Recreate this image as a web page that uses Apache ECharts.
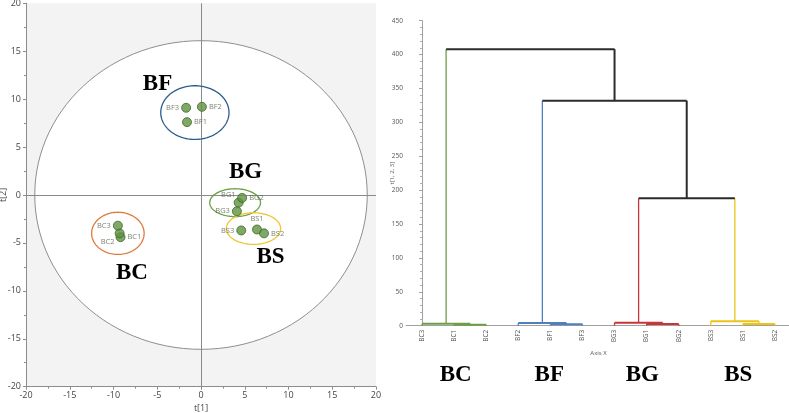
<!DOCTYPE html>
<html>
<head>
<meta charset="utf-8" />
<title>PCA score plot and dendrogram</title>
<script src="https://cdn.jsdelivr.net/npm/echarts@6/dist/echarts.min.js"></script>
<style>
  html, body { margin: 0; padding: 0; background: #fff; }
  #chart { width: 789px; height: 413px; }
</style>
</head>
<body>
<div id="chart"></div>
<script>
// ---- score plot data (t[1], t[2]) ----
var sampleNames = ['BF1', 'BF2', 'BF3', 'BG1', 'BG2', 'BG3', 'BS1', 'BS2', 'BS3', 'BC1', 'BC2', 'BC3'];
var t1Scores = [-1.6, 0.1, -1.7, 4.3, 4.7, 4.1, 6.4, 7.2, 4.6, -9.2, -9.3, -9.5];
var t2Scores = [7.6, 9.2, 9.1, -0.8, -0.3, -1.7, -3.6, -4.0, -3.7, -4.4, -4.0, -3.2];

// group ellipses: centre and half axes in score units
var groupNames = ['BF', 'BG', 'BS', 'BC'];
var ellCx = [-0.7, 3.9, 6.0, -9.5];
var ellCy = [8.6, -0.8, -3.5, -4.0];
var ellRx = [3.9, 2.9, 3.1, 3.0];
var ellRy = [2.8, 1.45, 1.65, 2.2];
// Hotelling T2 ellipse half axes
var hotellingAxes = [19.0, 16.1];

// ---- dendrogram data ----
var leafNames = ['BC3', 'BC1', 'BC2', 'BF2', 'BF1', 'BF3', 'BG3', 'BG1', 'BG2', 'BS3', 'BS1', 'BS2'];
var leafGroup = ['BC', 'BC', 'BC', 'BF', 'BF', 'BF', 'BG', 'BG', 'BG', 'BS', 'BS', 'BS'];
// merges: node 12 is the first merge, 13 the second ...
var mergeLeft   = [1, 0, 4, 3, 7, 6, 10, 9, 17, 15, 13];
var mergeRight  = [2, 12, 5, 14, 8, 16, 11, 18, 19, 20, 21];
var mergeHeight = [1.5, 3, 2, 4, 2.5, 4.5, 2.5, 6.5, 188, 332, 408];

var ellColor = { BF: '#2e5d8c', BG: '#6a9f45', BS: '#efc531', BC: '#df7a3c' };
var treeColor = { BC: '#6c9e47', BF: '#4f80bd', BG: '#c8363a', BS: '#ecc418' };
var joinColor = '#2b2b2b';

// where the point names sit (relative to the dot)
var labelPlace = {
  BF1: ['right', 0, 0], BF2: ['right', 0, 0], BF3: ['left', 0, 0],
  BG1: ['left', 4, -8], BG2: ['right', 0, 0], BG3: ['left', 0, 0],
  BS1: ['top', 0, 0], BS2: ['right', 0, 1], BS3: ['left', 0, 0],
  BC1: ['right', 0, 0], BC2: ['left', 2, 9], BC3: ['left', 0, 0]
};

var scoreData = sampleNames.map(function (n, i) {
  var p = labelPlace[n];
  return {
    name: n,
    value: [t1Scores[i], t2Scores[i]],
    label: { position: p[0], offset: [p[1], p[2]] }
  };
});

var ellData = groupNames.map(function (g, i) {
  return [ellCx[i], ellCy[i], ellRx[i], ellRy[i], i];
});

function ellipsePoints(api, cx, cy, rx, ry) {
  var pts = [];
  for (var k = 0; k < 120; k++) {
    var a = k / 120 * Math.PI * 2;
    pts.push(api.coord([cx + rx * Math.cos(a), cy + ry * Math.sin(a)]));
  }
  return pts;
}

// tree layout: x position and height of every node
var nodeX = leafNames.map(function (n, i) { return i; });
var nodeH = leafNames.map(function () { return 0; });
var nodeCol = leafGroup.map(function (g) { return treeColor[g]; });
for (var m = 0; m < mergeHeight.length; m++) {
  var l = mergeLeft[m], r = mergeRight[m];
  nodeX.push((nodeX[l] + nodeX[r]) / 2);
  nodeH.push(mergeHeight[m]);
  nodeCol.push(nodeCol[l] === nodeCol[r] ? nodeCol[l] : joinColor);
}
var treeData = mergeHeight.map(function (h, m) {
  return [nodeX[leafNames.length + m], h, m];
});

var axisGrey = '#8c8c8c';
var labelGrey = '#444';

function bigLabel(txt, x, y) {
  return {
    type: 'text', x: x, y: y, z: 10,
    style: { text: txt, fontFamily: 'Liberation Serif', fontWeight: 'bold', fontSize: 23,
             fill: '#000', align: 'center', verticalAlign: 'middle' }
  };
}

var myChart = echarts.init(document.getElementById('chart'));
var option = {
  animation: false,
  grid: [
    { left: 26, right: 413, top: 3.3, bottom: 26.3, outerBoundsMode: 'none', containLabel: false,
      show: true, backgroundColor: '#f3f3f3', borderWidth: 0 },
    { left: 406, right: -2, top: 20.7, bottom: 87.3, outerBoundsMode: 'none', containLabel: false }
  ],
  xAxis: [
    {
      gridIndex: 0, type: 'value', min: -20, max: 20, interval: 5,
      name: 't[1]', nameLocation: 'middle', nameGap: 17, nameMoveOverlap: false,
      nameTextStyle: { fontFamily: 'Open Sans', fontSize: 9, color: labelGrey },
      axisLine: { onZero: false, lineStyle: { color: axisGrey } },
      axisTick: { length: 3, lineStyle: { color: axisGrey } },
      minorTick: { show: true, splitNumber: 2, length: 2, lineStyle: { color: axisGrey } },
      axisLabel: { fontFamily: 'Open Sans', fontSize: 9, color: labelGrey, margin: 4 },
      splitLine: { show: false }
    },
    {
      gridIndex: 1, type: 'category', data: leafNames, boundaryGap: true,
      name: 'Axis X', nameLocation: 'middle', nameGap: 25, nameMoveOverlap: false,
      nameTextStyle: { fontFamily: 'Open Sans', fontSize: 6, color: '#555' },
      axisLine: { lineStyle: { color: '#a0a0a0' } },
      axisTick: { alignWithLabel: true, length: 3, lineStyle: { color: '#a0a0a0' } },
      axisLabel: { rotate: 90, fontFamily: 'Open Sans', fontSize: 6.5, color: '#555', margin: 4 }
    },
    {
      gridIndex: 1, type: 'value', min: -0.5, max: 11.5, show: false
    }
  ],
  yAxis: [
    {
      gridIndex: 0, type: 'value', min: -20, max: 20, interval: 5,
      name: 't[2]', nameLocation: 'middle', nameGap: 18, nameRotate: 90, nameMoveOverlap: false,
      nameTextStyle: { fontFamily: 'Open Sans', fontSize: 9, color: labelGrey },
      axisLine: { show: true, onZero: false, lineStyle: { color: axisGrey } },
      axisTick: { show: true, length: 3, lineStyle: { color: axisGrey } },
      minorTick: { show: true, splitNumber: 2, length: 2, lineStyle: { color: axisGrey } },
      axisLabel: { fontFamily: 'Open Sans', fontSize: 9, color: labelGrey, margin: 5 },
      splitLine: { show: false }
    },
    {
      gridIndex: 1, type: 'value', min: 0, max: 450, interval: 50,
      name: 't[1, 2, 3]', nameLocation: 'middle', nameGap: 11, nameRotate: 90, nameMoveOverlap: false,
      nameTextStyle: { fontFamily: 'Open Sans', fontSize: 6, color: '#555' },
      axisLine: { show: true, lineStyle: { color: '#a0a0a0' } },
      axisTick: { show: true, length: 3, lineStyle: { color: '#a0a0a0' } },
      minorTick: { show: true, splitNumber: 5, length: 2, lineStyle: { color: '#b0b0b0' } },
      axisLabel: { fontFamily: 'Open Sans', fontSize: 6.5, color: '#555', margin: 3 },
      splitLine: { show: false }
    }
  ],
  series: [
    {
      // Hotelling T2 ellipse
      type: 'custom', xAxisIndex: 0, yAxisIndex: 0, z: 1, silent: true,
      data: [[0, 0, hotellingAxes[0], hotellingAxes[1]]],
      renderItem: function (params, api) {
        return {
          type: 'polygon',
          shape: { points: ellipsePoints(api, api.value(0), api.value(1), api.value(2), api.value(3)) },
          style: { fill: '#ffffff', stroke: '#8f8f8f', lineWidth: 1 }
        };
      },
      markLine: {
        z: 2, silent: true, symbol: 'none', label: { show: false },
        lineStyle: { color: '#8a8a8a', width: 1, type: 'solid' },
        data: [{ xAxis: 0 }, { yAxis: 0 }]
      }
    },
    {
      // group ellipses
      type: 'custom', xAxisIndex: 0, yAxisIndex: 0, z: 3, silent: true,
      data: ellData,
      renderItem: function (params, api) {
        return {
          type: 'polygon',
          shape: { points: ellipsePoints(api, api.value(0), api.value(1), api.value(2), api.value(3)) },
          style: { fill: 'none', stroke: ellColor[groupNames[api.value(4)]], lineWidth: 1.3 }
        };
      }
    },
    {
      type: 'scatter', xAxisIndex: 0, yAxisIndex: 0, z: 4,
      symbolSize: 9,
      itemStyle: { color: '#5f9140', borderColor: '#3c6a25', borderWidth: 1 },
      label: {
        show: true, formatter: '{b}', distance: 2,
        fontFamily: 'Open Sans', fontSize: 7.5, color: '#5a6650'
      },
      data: scoreData
    },
    {
      // dendrogram links
      type: 'custom', xAxisIndex: 2, yAxisIndex: 1, z: 3, silent: true,
      data: treeData,
      renderItem: function (params, api) {
        var m = api.value(2);
        var node = leafNames.length + m;
        var l = mergeLeft[m], r = mergeRight[m];
        var h = mergeHeight[m];
        var pLb = api.coord([nodeX[l], nodeH[l]]);
        var pLt = api.coord([nodeX[l], h]);
        var pRb = api.coord([nodeX[r], nodeH[r]]);
        var pRt = api.coord([nodeX[r], h]);
        function w(c, horiz) { return c === joinColor ? 2 : (horiz ? 2 : 1.3); }
        return {
          type: 'group',
          children: [
            { type: 'line', shape: { x1: pLb[0], y1: pLb[1], x2: pLt[0], y2: pLt[1] },
              style: { stroke: nodeCol[l], lineWidth: w(nodeCol[l], false) } },
            { type: 'line', shape: { x1: pRb[0], y1: pRb[1], x2: pRt[0], y2: pRt[1] },
              style: { stroke: nodeCol[r], lineWidth: w(nodeCol[r], false) } },
            { type: 'line', shape: { x1: pLt[0], y1: pLt[1], x2: pRt[0], y2: pRt[1] },
              style: { stroke: nodeCol[node], lineWidth: w(nodeCol[node], true) } }
          ]
        };
      }
    }
  ],
  graphic: [
    bigLabel('BF', 157.5, 84),
    bigLabel('BG', 245.5, 172.5),
    bigLabel('BC', 132, 273),
    bigLabel('BS', 270.5, 256.7),
    bigLabel('BC', 455.7, 375),
    bigLabel('BF', 549.3, 375),
    bigLabel('BG', 642.3, 375),
    bigLabel('BS', 738.3, 375)
  ]
};
myChart.setOption(option);
</script>
</body>
</html>
